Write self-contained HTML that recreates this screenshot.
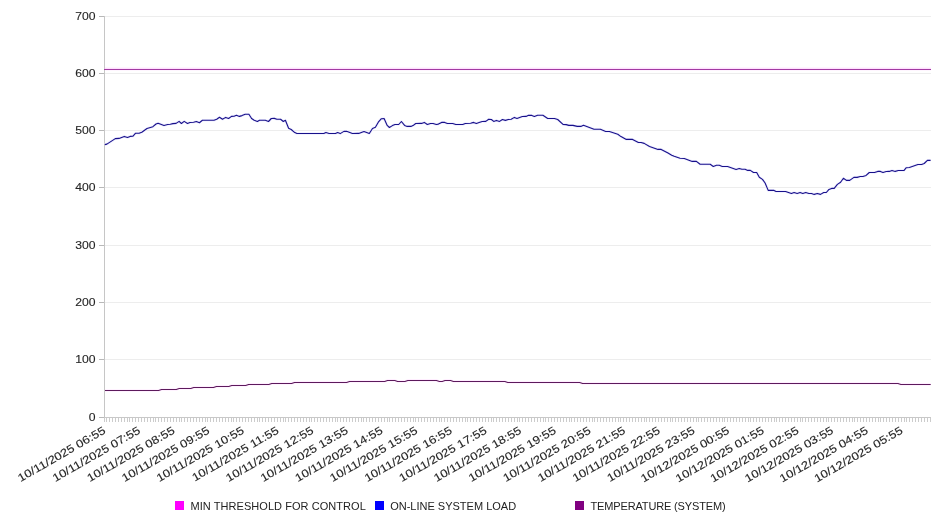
<!DOCTYPE html>
<html><head><meta charset="utf-8"><title>Chart</title>
<style>
html,body{margin:0;padding:0;background:#fff;}
body{width:946px;height:526px;overflow:hidden;font-family:"Liberation Sans",sans-serif;}
svg{display:block;}
svg text{filter:grayscale(1);}
svg text{font-family:"Liberation Sans",sans-serif;font-size:11px;fill:#222;}
svg g.ax text{font-size:11.2px;fill:#262626;stroke:#262626;stroke-width:0.12px;}
</style></head><body>
<svg width="946" height="526" viewBox="0 0 946 526">
<rect x="0" y="0" width="946" height="526" fill="#ffffff"/>
<g fill="#ededed">
<rect x="104" y="16" width="827" height="1"/>
<rect x="104" y="73" width="827" height="1"/>
<rect x="104" y="130" width="827" height="1"/>
<rect x="104" y="187" width="827" height="1"/>
<rect x="104" y="245" width="827" height="1"/>
<rect x="104" y="302" width="827" height="1"/>
<rect x="104" y="359" width="827" height="1"/>
</g>
<g fill="#b8b8b8">
<rect x="99" y="16" width="5" height="1"/>
<rect x="99" y="73" width="5" height="1"/>
<rect x="99" y="130" width="5" height="1"/>
<rect x="99" y="187" width="5" height="1"/>
<rect x="99" y="245" width="5" height="1"/>
<rect x="99" y="302" width="5" height="1"/>
<rect x="99" y="359" width="5" height="1"/>
<rect x="99" y="417" width="5" height="1"/>
</g>
<g fill="#cccccc">
<rect x="104" y="418" width="1" height="4"/><rect x="106" y="418" width="1" height="4"/><rect x="109" y="418" width="1" height="4"/><rect x="112" y="418" width="1" height="4"/><rect x="115" y="418" width="1" height="4"/><rect x="118" y="418" width="1" height="4"/><rect x="121" y="418" width="1" height="4"/><rect x="124" y="418" width="1" height="4"/><rect x="127" y="418" width="1" height="4"/><rect x="129" y="418" width="1" height="4"/><rect x="132" y="418" width="1" height="4"/><rect x="135" y="418" width="1" height="4"/><rect x="138" y="418" width="1" height="4"/><rect x="141" y="418" width="1" height="4"/><rect x="144" y="418" width="1" height="4"/><rect x="147" y="418" width="1" height="4"/><rect x="150" y="418" width="1" height="4"/><rect x="153" y="418" width="1" height="4"/><rect x="155" y="418" width="1" height="4"/><rect x="158" y="418" width="1" height="4"/><rect x="161" y="418" width="1" height="4"/><rect x="164" y="418" width="1" height="4"/><rect x="167" y="418" width="1" height="4"/><rect x="170" y="418" width="1" height="4"/><rect x="173" y="418" width="1" height="4"/><rect x="176" y="418" width="1" height="4"/><rect x="179" y="418" width="1" height="4"/><rect x="181" y="418" width="1" height="4"/><rect x="184" y="418" width="1" height="4"/><rect x="187" y="418" width="1" height="4"/><rect x="190" y="418" width="1" height="4"/><rect x="193" y="418" width="1" height="4"/><rect x="196" y="418" width="1" height="4"/><rect x="199" y="418" width="1" height="4"/><rect x="202" y="418" width="1" height="4"/><rect x="205" y="418" width="1" height="4"/><rect x="207" y="418" width="1" height="4"/><rect x="210" y="418" width="1" height="4"/><rect x="213" y="418" width="1" height="4"/><rect x="216" y="418" width="1" height="4"/><rect x="219" y="418" width="1" height="4"/><rect x="222" y="418" width="1" height="4"/><rect x="225" y="418" width="1" height="4"/><rect x="228" y="418" width="1" height="4"/><rect x="231" y="418" width="1" height="4"/><rect x="233" y="418" width="1" height="4"/><rect x="236" y="418" width="1" height="4"/><rect x="239" y="418" width="1" height="4"/><rect x="242" y="418" width="1" height="4"/><rect x="245" y="418" width="1" height="4"/><rect x="248" y="418" width="1" height="4"/><rect x="251" y="418" width="1" height="4"/><rect x="254" y="418" width="1" height="4"/><rect x="257" y="418" width="1" height="4"/><rect x="259" y="418" width="1" height="4"/><rect x="262" y="418" width="1" height="4"/><rect x="265" y="418" width="1" height="4"/><rect x="268" y="418" width="1" height="4"/><rect x="271" y="418" width="1" height="4"/><rect x="274" y="418" width="1" height="4"/><rect x="277" y="418" width="1" height="4"/><rect x="280" y="418" width="1" height="4"/><rect x="283" y="418" width="1" height="4"/><rect x="285" y="418" width="1" height="4"/><rect x="288" y="418" width="1" height="4"/><rect x="291" y="418" width="1" height="4"/><rect x="294" y="418" width="1" height="4"/><rect x="297" y="418" width="1" height="4"/><rect x="300" y="418" width="1" height="4"/><rect x="303" y="418" width="1" height="4"/><rect x="306" y="418" width="1" height="4"/><rect x="309" y="418" width="1" height="4"/><rect x="311" y="418" width="1" height="4"/><rect x="314" y="418" width="1" height="4"/><rect x="317" y="418" width="1" height="4"/><rect x="320" y="418" width="1" height="4"/><rect x="323" y="418" width="1" height="4"/><rect x="326" y="418" width="1" height="4"/><rect x="329" y="418" width="1" height="4"/><rect x="332" y="418" width="1" height="4"/><rect x="335" y="418" width="1" height="4"/><rect x="337" y="418" width="1" height="4"/><rect x="340" y="418" width="1" height="4"/><rect x="343" y="418" width="1" height="4"/><rect x="346" y="418" width="1" height="4"/><rect x="349" y="418" width="1" height="4"/><rect x="352" y="418" width="1" height="4"/><rect x="355" y="418" width="1" height="4"/><rect x="358" y="418" width="1" height="4"/><rect x="361" y="418" width="1" height="4"/><rect x="363" y="418" width="1" height="4"/><rect x="366" y="418" width="1" height="4"/><rect x="369" y="418" width="1" height="4"/><rect x="372" y="418" width="1" height="4"/><rect x="375" y="418" width="1" height="4"/><rect x="378" y="418" width="1" height="4"/><rect x="381" y="418" width="1" height="4"/><rect x="384" y="418" width="1" height="4"/><rect x="387" y="418" width="1" height="4"/><rect x="389" y="418" width="1" height="4"/><rect x="392" y="418" width="1" height="4"/><rect x="395" y="418" width="1" height="4"/><rect x="398" y="418" width="1" height="4"/><rect x="401" y="418" width="1" height="4"/><rect x="404" y="418" width="1" height="4"/><rect x="407" y="418" width="1" height="4"/><rect x="410" y="418" width="1" height="4"/><rect x="413" y="418" width="1" height="4"/><rect x="415" y="418" width="1" height="4"/><rect x="418" y="418" width="1" height="4"/><rect x="421" y="418" width="1" height="4"/><rect x="424" y="418" width="1" height="4"/><rect x="427" y="418" width="1" height="4"/><rect x="430" y="418" width="1" height="4"/><rect x="433" y="418" width="1" height="4"/><rect x="436" y="418" width="1" height="4"/><rect x="439" y="418" width="1" height="4"/><rect x="441" y="418" width="1" height="4"/><rect x="444" y="418" width="1" height="4"/><rect x="447" y="418" width="1" height="4"/><rect x="450" y="418" width="1" height="4"/><rect x="453" y="418" width="1" height="4"/><rect x="456" y="418" width="1" height="4"/><rect x="459" y="418" width="1" height="4"/><rect x="462" y="418" width="1" height="4"/><rect x="465" y="418" width="1" height="4"/><rect x="467" y="418" width="1" height="4"/><rect x="470" y="418" width="1" height="4"/><rect x="473" y="418" width="1" height="4"/><rect x="476" y="418" width="1" height="4"/><rect x="479" y="418" width="1" height="4"/><rect x="482" y="418" width="1" height="4"/><rect x="485" y="418" width="1" height="4"/><rect x="488" y="418" width="1" height="4"/><rect x="491" y="418" width="1" height="4"/><rect x="493" y="418" width="1" height="4"/><rect x="496" y="418" width="1" height="4"/><rect x="499" y="418" width="1" height="4"/><rect x="502" y="418" width="1" height="4"/><rect x="505" y="418" width="1" height="4"/><rect x="508" y="418" width="1" height="4"/><rect x="511" y="418" width="1" height="4"/><rect x="514" y="418" width="1" height="4"/><rect x="517" y="418" width="1" height="4"/><rect x="519" y="418" width="1" height="4"/><rect x="522" y="418" width="1" height="4"/><rect x="525" y="418" width="1" height="4"/><rect x="528" y="418" width="1" height="4"/><rect x="531" y="418" width="1" height="4"/><rect x="534" y="418" width="1" height="4"/><rect x="537" y="418" width="1" height="4"/><rect x="540" y="418" width="1" height="4"/><rect x="543" y="418" width="1" height="4"/><rect x="545" y="418" width="1" height="4"/><rect x="548" y="418" width="1" height="4"/><rect x="551" y="418" width="1" height="4"/><rect x="554" y="418" width="1" height="4"/><rect x="557" y="418" width="1" height="4"/><rect x="560" y="418" width="1" height="4"/><rect x="563" y="418" width="1" height="4"/><rect x="566" y="418" width="1" height="4"/><rect x="569" y="418" width="1" height="4"/><rect x="571" y="418" width="1" height="4"/><rect x="574" y="418" width="1" height="4"/><rect x="577" y="418" width="1" height="4"/><rect x="580" y="418" width="1" height="4"/><rect x="583" y="418" width="1" height="4"/><rect x="586" y="418" width="1" height="4"/><rect x="589" y="418" width="1" height="4"/><rect x="592" y="418" width="1" height="4"/><rect x="594" y="418" width="1" height="4"/><rect x="597" y="418" width="1" height="4"/><rect x="600" y="418" width="1" height="4"/><rect x="603" y="418" width="1" height="4"/><rect x="606" y="418" width="1" height="4"/><rect x="609" y="418" width="1" height="4"/><rect x="612" y="418" width="1" height="4"/><rect x="615" y="418" width="1" height="4"/><rect x="618" y="418" width="1" height="4"/><rect x="620" y="418" width="1" height="4"/><rect x="623" y="418" width="1" height="4"/><rect x="626" y="418" width="1" height="4"/><rect x="629" y="418" width="1" height="4"/><rect x="632" y="418" width="1" height="4"/><rect x="635" y="418" width="1" height="4"/><rect x="638" y="418" width="1" height="4"/><rect x="641" y="418" width="1" height="4"/><rect x="644" y="418" width="1" height="4"/><rect x="646" y="418" width="1" height="4"/><rect x="649" y="418" width="1" height="4"/><rect x="652" y="418" width="1" height="4"/><rect x="655" y="418" width="1" height="4"/><rect x="658" y="418" width="1" height="4"/><rect x="661" y="418" width="1" height="4"/><rect x="664" y="418" width="1" height="4"/><rect x="667" y="418" width="1" height="4"/><rect x="670" y="418" width="1" height="4"/><rect x="672" y="418" width="1" height="4"/><rect x="675" y="418" width="1" height="4"/><rect x="678" y="418" width="1" height="4"/><rect x="681" y="418" width="1" height="4"/><rect x="684" y="418" width="1" height="4"/><rect x="687" y="418" width="1" height="4"/><rect x="690" y="418" width="1" height="4"/><rect x="693" y="418" width="1" height="4"/><rect x="696" y="418" width="1" height="4"/><rect x="698" y="418" width="1" height="4"/><rect x="701" y="418" width="1" height="4"/><rect x="704" y="418" width="1" height="4"/><rect x="707" y="418" width="1" height="4"/><rect x="710" y="418" width="1" height="4"/><rect x="713" y="418" width="1" height="4"/><rect x="716" y="418" width="1" height="4"/><rect x="719" y="418" width="1" height="4"/><rect x="722" y="418" width="1" height="4"/><rect x="724" y="418" width="1" height="4"/><rect x="727" y="418" width="1" height="4"/><rect x="730" y="418" width="1" height="4"/><rect x="733" y="418" width="1" height="4"/><rect x="736" y="418" width="1" height="4"/><rect x="739" y="418" width="1" height="4"/><rect x="742" y="418" width="1" height="4"/><rect x="745" y="418" width="1" height="4"/><rect x="748" y="418" width="1" height="4"/><rect x="750" y="418" width="1" height="4"/><rect x="753" y="418" width="1" height="4"/><rect x="756" y="418" width="1" height="4"/><rect x="759" y="418" width="1" height="4"/><rect x="762" y="418" width="1" height="4"/><rect x="765" y="418" width="1" height="4"/><rect x="768" y="418" width="1" height="4"/><rect x="771" y="418" width="1" height="4"/><rect x="774" y="418" width="1" height="4"/><rect x="776" y="418" width="1" height="4"/><rect x="779" y="418" width="1" height="4"/><rect x="782" y="418" width="1" height="4"/><rect x="785" y="418" width="1" height="4"/><rect x="788" y="418" width="1" height="4"/><rect x="791" y="418" width="1" height="4"/><rect x="794" y="418" width="1" height="4"/><rect x="797" y="418" width="1" height="4"/><rect x="800" y="418" width="1" height="4"/><rect x="802" y="418" width="1" height="4"/><rect x="805" y="418" width="1" height="4"/><rect x="808" y="418" width="1" height="4"/><rect x="811" y="418" width="1" height="4"/><rect x="814" y="418" width="1" height="4"/><rect x="817" y="418" width="1" height="4"/><rect x="820" y="418" width="1" height="4"/><rect x="823" y="418" width="1" height="4"/><rect x="826" y="418" width="1" height="4"/><rect x="828" y="418" width="1" height="4"/><rect x="831" y="418" width="1" height="4"/><rect x="834" y="418" width="1" height="4"/><rect x="837" y="418" width="1" height="4"/><rect x="840" y="418" width="1" height="4"/><rect x="843" y="418" width="1" height="4"/><rect x="846" y="418" width="1" height="4"/><rect x="849" y="418" width="1" height="4"/><rect x="852" y="418" width="1" height="4"/><rect x="854" y="418" width="1" height="4"/><rect x="857" y="418" width="1" height="4"/><rect x="860" y="418" width="1" height="4"/><rect x="863" y="418" width="1" height="4"/><rect x="866" y="418" width="1" height="4"/><rect x="869" y="418" width="1" height="4"/><rect x="872" y="418" width="1" height="4"/><rect x="875" y="418" width="1" height="4"/><rect x="878" y="418" width="1" height="4"/><rect x="880" y="418" width="1" height="4"/><rect x="883" y="418" width="1" height="4"/><rect x="886" y="418" width="1" height="4"/><rect x="889" y="418" width="1" height="4"/><rect x="892" y="418" width="1" height="4"/><rect x="895" y="418" width="1" height="4"/><rect x="898" y="418" width="1" height="4"/><rect x="901" y="418" width="1" height="4"/><rect x="904" y="418" width="1" height="4"/><rect x="906" y="418" width="1" height="4"/><rect x="909" y="418" width="1" height="4"/><rect x="912" y="418" width="1" height="4"/><rect x="915" y="418" width="1" height="4"/><rect x="918" y="418" width="1" height="4"/><rect x="921" y="418" width="1" height="4"/><rect x="924" y="418" width="1" height="4"/><rect x="927" y="418" width="1" height="4"/><rect x="930" y="418" width="1" height="4"/>
</g>
<rect x="104" y="16" width="1" height="402" fill="#c6c6c6"/>
<rect x="104" y="417" width="827" height="1" fill="#c8c8c8"/>
<g fill="none" stroke-linejoin="round" stroke-linecap="butt">
<rect x="105" y="67" width="826" height="1" fill="#fff3ff" stroke="none"/>
<rect x="105" y="68" width="826" height="1" fill="#ffe0ff" stroke="none"/>
<rect x="105" y="70" width="826" height="1" fill="#fff6ff" stroke="none"/>
<rect x="104" y="69" width="827" height="1" fill="#a23aa2" stroke="none"/>
<polyline stroke="#eeeeff" stroke-width="2.6" points="104.8,144.6 106.9,144.1 115.3,138.6 119.0,138.4 124.3,136.4 127.5,137.5 130.1,136.4 132.8,136.3 135.4,133.3 139.1,133.2 141.8,132.2 147.0,128.5 152.9,126.7 156.0,124.0 158.1,123.3 164.0,125.5 167.7,124.5 170.3,124.3 172.9,123.6 176.1,123.4 179.1,121.4 181.4,123.5 184.2,121.4 187.5,123.5 189.9,122.5 193.6,122.3 196.4,121.5 199.4,122.7 202.4,120.3 214.0,120.3 216.7,119.2 219.5,117.2 222.5,119.3 225.7,117.4 228.6,118.5 231.5,116.4 234.1,116.3 236.4,115.3 239.4,116.4 242.0,115.6 245.2,114.3 248.9,114.3 251.6,118.5 254.2,120.3 257.4,121.5 259.5,120.3 265.3,120.3 268.5,121.5 271.3,118.5 274.3,118.4 276.9,119.2 280.6,119.3 283.3,121.5 285.4,120.3 288.6,128.3 291.2,129.5 294.8,132.6 296.9,133.5 323.8,133.5 325.9,132.5 329.1,133.5 335.5,133.5 337.6,132.6 340.2,133.6 343.9,131.4 346.6,131.3 352.4,133.5 358.7,133.4 364.0,131.4 369.3,133.5 372.5,128.5 375.4,127.3 378.3,122.2 381.4,118.7 384.1,118.6 387.2,125.4 389.4,127.5 392.4,125.6 395.0,124.5 398.7,124.5 401.4,121.5 404.6,125.4 407.2,126.4 410.9,126.4 413.0,125.6 415.7,123.5 421.5,123.4 424.3,122.4 427.3,124.5 430.5,123.5 433.1,123.5 436.3,124.5 438.4,124.1 441.6,122.4 444.7,122.4 447.4,123.5 452.7,123.5 455.8,124.5 462.7,124.5 465.3,123.5 470.6,123.3 473.6,122.4 476.4,123.5 479.1,122.6 482.2,121.5 485.8,121.4 488.7,119.3 491.4,119.5 493.7,121.4 496.4,120.4 499.6,121.4 502.4,119.5 505.4,120.4 508.3,119.5 511.2,119.3 514.4,117.4 517.0,118.5 522.3,116.5 526.0,116.4 528.6,115.3 531.8,115.4 534.4,116.5 537.6,115.3 542.9,115.3 547.7,118.5 554.5,118.5 557.7,119.5 563.0,124.4 566.2,124.6 568.8,125.4 573.0,125.4 577.2,126.4 580.8,126.4 583.5,125.3 586.1,126.2 594.0,129.3 600.4,129.3 605.7,131.5 609.4,131.5 617.8,134.3 621.0,136.6 626.3,139.4 632.6,139.4 638.4,142.5 641.1,142.5 644.2,143.4 649.5,146.5 658.0,149.4 661.2,149.4 668.0,153.0 671.7,155.2 674.2,156.3 680.0,158.3 684.3,158.5 692.2,161.4 696.4,161.4 700.1,164.3 710.2,164.3 713.3,166.5 716.5,165.3 719.2,165.3 722.3,166.5 727.6,166.5 736.1,169.5 739.2,168.5 741.9,169.3 745.1,169.3 747.7,170.4 750.3,170.4 753.5,172.5 756.7,172.5 759.3,177.2 762.5,179.4 765.1,183.0 768.2,190.4 774.0,190.4 776.1,191.5 785.6,191.5 791.4,193.5 794.1,192.5 797.2,193.5 800.1,192.5 802.8,193.5 805.7,192.5 808.9,193.5 811.5,193.5 814.2,194.4 817.3,193.5 820.5,194.4 823.7,192.5 826.3,192.5 829.0,189.4 831.6,188.4 834.2,188.4 837.4,184.4 840.6,182.3 843.4,178.3 846.4,180.4 849.7,180.4 853.9,177.4 857.1,177.4 860.3,176.5 862.9,176.5 866.1,175.4 869.3,172.5 874.5,172.5 877.7,171.4 880.4,171.4 883.0,172.5 886.2,171.5 889.3,171.4 892.0,170.4 895.2,171.4 898.3,170.5 904.1,170.4 906.3,167.7 909.4,167.5 917.9,164.5 921.6,164.5 924.2,163.5 927.4,160.4 930.6,160.4"/>
<polyline stroke="#18108a" stroke-width="1.1" points="104.8,144.6 106.9,144.1 115.3,138.6 119.0,138.4 124.3,136.4 127.5,137.5 130.1,136.4 132.8,136.3 135.4,133.3 139.1,133.2 141.8,132.2 147.0,128.5 152.9,126.7 156.0,124.0 158.1,123.3 164.0,125.5 167.7,124.5 170.3,124.3 172.9,123.6 176.1,123.4 179.1,121.4 181.4,123.5 184.2,121.4 187.5,123.5 189.9,122.5 193.6,122.3 196.4,121.5 199.4,122.7 202.4,120.3 214.0,120.3 216.7,119.2 219.5,117.2 222.5,119.3 225.7,117.4 228.6,118.5 231.5,116.4 234.1,116.3 236.4,115.3 239.4,116.4 242.0,115.6 245.2,114.3 248.9,114.3 251.6,118.5 254.2,120.3 257.4,121.5 259.5,120.3 265.3,120.3 268.5,121.5 271.3,118.5 274.3,118.4 276.9,119.2 280.6,119.3 283.3,121.5 285.4,120.3 288.6,128.3 291.2,129.5 294.8,132.6 296.9,133.5 323.8,133.5 325.9,132.5 329.1,133.5 335.5,133.5 337.6,132.6 340.2,133.6 343.9,131.4 346.6,131.3 352.4,133.5 358.7,133.4 364.0,131.4 369.3,133.5 372.5,128.5 375.4,127.3 378.3,122.2 381.4,118.7 384.1,118.6 387.2,125.4 389.4,127.5 392.4,125.6 395.0,124.5 398.7,124.5 401.4,121.5 404.6,125.4 407.2,126.4 410.9,126.4 413.0,125.6 415.7,123.5 421.5,123.4 424.3,122.4 427.3,124.5 430.5,123.5 433.1,123.5 436.3,124.5 438.4,124.1 441.6,122.4 444.7,122.4 447.4,123.5 452.7,123.5 455.8,124.5 462.7,124.5 465.3,123.5 470.6,123.3 473.6,122.4 476.4,123.5 479.1,122.6 482.2,121.5 485.8,121.4 488.7,119.3 491.4,119.5 493.7,121.4 496.4,120.4 499.6,121.4 502.4,119.5 505.4,120.4 508.3,119.5 511.2,119.3 514.4,117.4 517.0,118.5 522.3,116.5 526.0,116.4 528.6,115.3 531.8,115.4 534.4,116.5 537.6,115.3 542.9,115.3 547.7,118.5 554.5,118.5 557.7,119.5 563.0,124.4 566.2,124.6 568.8,125.4 573.0,125.4 577.2,126.4 580.8,126.4 583.5,125.3 586.1,126.2 594.0,129.3 600.4,129.3 605.7,131.5 609.4,131.5 617.8,134.3 621.0,136.6 626.3,139.4 632.6,139.4 638.4,142.5 641.1,142.5 644.2,143.4 649.5,146.5 658.0,149.4 661.2,149.4 668.0,153.0 671.7,155.2 674.2,156.3 680.0,158.3 684.3,158.5 692.2,161.4 696.4,161.4 700.1,164.3 710.2,164.3 713.3,166.5 716.5,165.3 719.2,165.3 722.3,166.5 727.6,166.5 736.1,169.5 739.2,168.5 741.9,169.3 745.1,169.3 747.7,170.4 750.3,170.4 753.5,172.5 756.7,172.5 759.3,177.2 762.5,179.4 765.1,183.0 768.2,190.4 774.0,190.4 776.1,191.5 785.6,191.5 791.4,193.5 794.1,192.5 797.2,193.5 800.1,192.5 802.8,193.5 805.7,192.5 808.9,193.5 811.5,193.5 814.2,194.4 817.3,193.5 820.5,194.4 823.7,192.5 826.3,192.5 829.0,189.4 831.6,188.4 834.2,188.4 837.4,184.4 840.6,182.3 843.4,178.3 846.4,180.4 849.7,180.4 853.9,177.4 857.1,177.4 860.3,176.5 862.9,176.5 866.1,175.4 869.3,172.5 874.5,172.5 877.7,171.4 880.4,171.4 883.0,172.5 886.2,171.5 889.3,171.4 892.0,170.4 895.2,171.4 898.3,170.5 904.1,170.4 906.3,167.7 909.4,167.5 917.9,164.5 921.6,164.5 924.2,163.5 927.4,160.4 930.6,160.4"/>
<polyline stroke="#ffeeff" stroke-width="2.6" points="105.0,390.5 158.6,390.5 161.5,389.5 176.3,389.5 179.2,388.4 190.8,388.4 193.7,387.4 213.5,387.4 216.4,386.4 228.8,386.4 231.7,385.4 245.7,385.4 248.6,384.4 268.8,384.4 271.7,383.4 291.6,383.4 294.5,382.4 346.6,382.4 349.5,381.4 384.7,381.4 387.5,380.4 394.8,380.4 397.6,381.4 404.9,381.4 407.8,380.4 436.5,380.4 439.4,381.4 442.2,381.4 445.0,380.4 450.6,380.4 453.4,381.4 504.9,381.4 507.8,382.4 579.7,382.4 582.6,383.4 898.0,383.4 900.9,384.4 930.7,384.4"/>
<polyline stroke="#5c1a5c" stroke-width="1.05" points="105.0,390.5 158.6,390.5 161.5,389.5 176.3,389.5 179.2,388.4 190.8,388.4 193.7,387.4 213.5,387.4 216.4,386.4 228.8,386.4 231.7,385.4 245.7,385.4 248.6,384.4 268.8,384.4 271.7,383.4 291.6,383.4 294.5,382.4 346.6,382.4 349.5,381.4 384.7,381.4 387.5,380.4 394.8,380.4 397.6,381.4 404.9,381.4 407.8,380.4 436.5,380.4 439.4,381.4 442.2,381.4 445.0,380.4 450.6,380.4 453.4,381.4 504.9,381.4 507.8,382.4 579.7,382.4 582.6,383.4 898.0,383.4 900.9,384.4 930.7,384.4"/>
</g>
<g class="ax" text-anchor="end">
<text transform="translate(95.6,19.9) scale(1.09,1)" x="0" y="0">700</text>
<text transform="translate(95.6,76.9) scale(1.09,1)" x="0" y="0">600</text>
<text transform="translate(95.6,133.9) scale(1.09,1)" x="0" y="0">500</text>
<text transform="translate(95.6,190.9) scale(1.09,1)" x="0" y="0">400</text>
<text transform="translate(95.6,248.9) scale(1.09,1)" x="0" y="0">300</text>
<text transform="translate(95.6,305.9) scale(1.09,1)" x="0" y="0">200</text>
<text transform="translate(95.6,362.9) scale(1.09,1)" x="0" y="0">100</text>
<text transform="translate(95.6,420.9) scale(1.09,1)" x="0" y="0">0</text>
</g>
<g class="ax" text-anchor="end">
<text transform="translate(106.4,432.6) rotate(-30) scale(1.15,1)" x="0" y="0">10/11/2025 06:55</text>
<text transform="translate(141.1,432.6) rotate(-30) scale(1.15,1)" x="0" y="0">10/11/2025 07:55</text>
<text transform="translate(175.7,432.6) rotate(-30) scale(1.15,1)" x="0" y="0">10/11/2025 08:55</text>
<text transform="translate(210.4,432.6) rotate(-30) scale(1.15,1)" x="0" y="0">10/11/2025 09:55</text>
<text transform="translate(245.0,432.6) rotate(-30) scale(1.15,1)" x="0" y="0">10/11/2025 10:55</text>
<text transform="translate(279.7,432.6) rotate(-30) scale(1.15,1)" x="0" y="0">10/11/2025 11:55</text>
<text transform="translate(314.4,432.6) rotate(-30) scale(1.15,1)" x="0" y="0">10/11/2025 12:55</text>
<text transform="translate(349.0,432.6) rotate(-30) scale(1.15,1)" x="0" y="0">10/11/2025 13:55</text>
<text transform="translate(383.7,432.6) rotate(-30) scale(1.15,1)" x="0" y="0">10/11/2025 14:55</text>
<text transform="translate(418.4,432.6) rotate(-30) scale(1.15,1)" x="0" y="0">10/11/2025 15:55</text>
<text transform="translate(453.0,432.6) rotate(-30) scale(1.15,1)" x="0" y="0">10/11/2025 16:55</text>
<text transform="translate(487.7,432.6) rotate(-30) scale(1.15,1)" x="0" y="0">10/11/2025 17:55</text>
<text transform="translate(522.3,432.6) rotate(-30) scale(1.15,1)" x="0" y="0">10/11/2025 18:55</text>
<text transform="translate(557.0,432.6) rotate(-30) scale(1.15,1)" x="0" y="0">10/11/2025 19:55</text>
<text transform="translate(591.7,432.6) rotate(-30) scale(1.15,1)" x="0" y="0">10/11/2025 20:55</text>
<text transform="translate(626.3,432.6) rotate(-30) scale(1.15,1)" x="0" y="0">10/11/2025 21:55</text>
<text transform="translate(661.0,432.6) rotate(-30) scale(1.15,1)" x="0" y="0">10/11/2025 22:55</text>
<text transform="translate(695.7,432.6) rotate(-30) scale(1.15,1)" x="0" y="0">10/11/2025 23:55</text>
<text transform="translate(730.3,432.6) rotate(-30) scale(1.15,1)" x="0" y="0">10/12/2025 00:55</text>
<text transform="translate(765.0,432.6) rotate(-30) scale(1.15,1)" x="0" y="0">10/12/2025 01:55</text>
<text transform="translate(799.6,432.6) rotate(-30) scale(1.15,1)" x="0" y="0">10/12/2025 02:55</text>
<text transform="translate(834.3,432.6) rotate(-30) scale(1.15,1)" x="0" y="0">10/12/2025 03:55</text>
<text transform="translate(869.0,432.6) rotate(-30) scale(1.15,1)" x="0" y="0">10/12/2025 04:55</text>
<text transform="translate(903.6,432.6) rotate(-30) scale(1.15,1)" x="0" y="0">10/12/2025 05:55</text>
</g>
<rect x="175" y="501" width="9" height="9" fill="#ff00ff"/>
<text x="190.5" y="509.7" style="letter-spacing:0.055px">MIN THRESHOLD FOR CONTROL</text>
<rect x="375" y="501" width="9" height="9" fill="#0000ff"/>
<text x="390.2" y="509.7">ON-LINE SYSTEM LOAD</text>
<rect x="575" y="501" width="9" height="9" fill="#800080"/>
<text x="590.5" y="509.7" style="letter-spacing:-0.15px">TEMPERATURE (SYSTEM)</text>
</svg>
</body></html>
